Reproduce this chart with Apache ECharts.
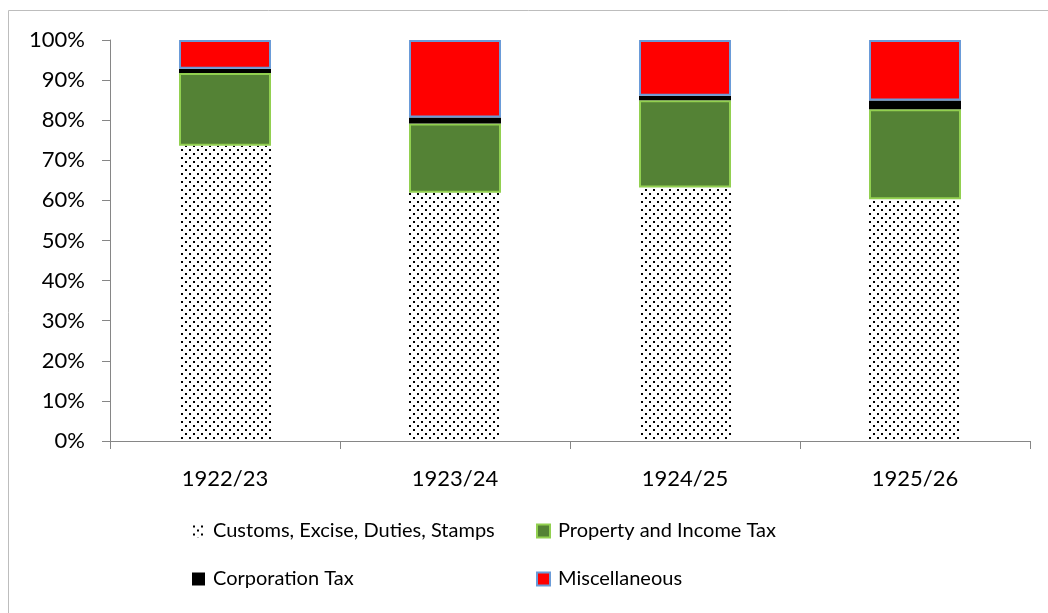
<!DOCTYPE html>
<html>
<head>
<meta charset="utf-8">
<title>Revenue composition</title>
<script src="https://cdn.jsdelivr.net/npm/echarts@6/dist/echarts.min.js"></script>
<style>
  html, body { margin: 0; padding: 0; background: #fff; }
  #myChart { width: 1048px; height: 613px; }
</style>
</head>
<body>
<div id="myChart"></div>
<script>
var years = ['1922/23', '1923/24', '1924/25', '1925/26'];
var customs = [73.6, 61.9, 63.2, 60.3];
var property = [18.2, 17.3, 21.8, 22.4];
var corporation = [1.0, 1.5, 1.1, 2.2];
var misc = [7.2, 19.3, 13.9, 15.1];
var yTicks = [0, 10, 20, 30, 40, 50, 60, 70, 80, 90, 100];

// dotted fill like the original
function dotPattern() {
    var c = document.createElement('canvas');
    c.width = 8; c.height = 8;
    var ctx = c.getContext('2d');
    ctx.fillStyle = '#fff';
    ctx.fillRect(0, 0, 8, 8);
    ctx.fillStyle = '#000';
    ctx.fillRect(1, 1, 2, 2);
    ctx.fillRect(5, 5, 2, 2);
    return c;
}

var font = 'Lato, "Open Sans", sans-serif';
var dom = document.getElementById('myChart');
var myChart = echarts.init(dom, null, { renderer: 'canvas' });

function legendAt(name, left, top) {
    return {
        data: [name],
        left: left,
        top: top,
        padding: 0,
        icon: 'rect',
        itemWidth: 13,
        itemHeight: 13,
        selectedMode: false,
        textStyle: { color: '#000', fontSize: 20, fontFamily: font, padding: [0, 0, 0, 3] }
    };
}

var option = {
    animation: false,
    graphic: [{
        type: 'rect',
        shape: { x: 8.5, y: 10.5, width: 1100, height: 700 },
        style: { fill: null, stroke: '#bdbdbd', lineWidth: 1 },
        silent: true
    }],
    grid: { left: 110, right: 18, top: 40, bottom: 172 },
    legend: [
        legendAt('Customs, Excise, Duties, Stamps', 192, 521),
        legendAt('Property and Income Tax', 536, 521),
        legendAt('Corporation Tax', 192, 569),
        legendAt('Miscellaneous', 536, 569)
    ],
    xAxis: {
        type: 'category',
        data: years,
        axisLine: { lineStyle: { color: '#868686', width: 1 } },
        axisTick: { show: true, alignWithLabel: false, length: 8, lineStyle: { color: '#868686' } },
        axisLabel: { color: '#000', fontSize: 22, fontFamily: font, margin: 27 }
    },
    yAxis: {
        type: 'value',
        min: 0,
        max: 100,
        interval: 10,
        axisLine: { show: true, lineStyle: { color: '#868686', width: 1 } },
        axisTick: { show: true, length: 8, lineStyle: { color: '#868686' } },
        splitLine: { show: false },
        axisLabel: {
            color: '#000', fontSize: 22, fontFamily: font, margin: 25,
            formatter: function (v) { return yTicks.indexOf(v) > -1 ? v + '%' : ''; }
        }
    },
    series: [{
        name: 'Customs, Excise, Duties, Stamps',
        type: 'bar',
        stack: 'total',
        barWidth: '40%',
        itemStyle: { color: { image: dotPattern(), repeat: 'repeat' } },
        data: customs
    }, {
        name: 'Property and Income Tax',
        type: 'bar',
        stack: 'total',
        itemStyle: { color: '#548235', borderColor: '#92d050', borderWidth: 2 },
        data: property
    }, {
        name: 'Corporation Tax',
        type: 'bar',
        stack: 'total',
        itemStyle: { color: '#000' },
        data: corporation
    }, {
        name: 'Miscellaneous',
        type: 'bar',
        stack: 'total',
        itemStyle: { color: '#ff0000', borderColor: '#6a9bd8', borderWidth: 2 },
        data: misc
    }]
};
myChart.setOption(option, true);
</script>
</body>
</html>
